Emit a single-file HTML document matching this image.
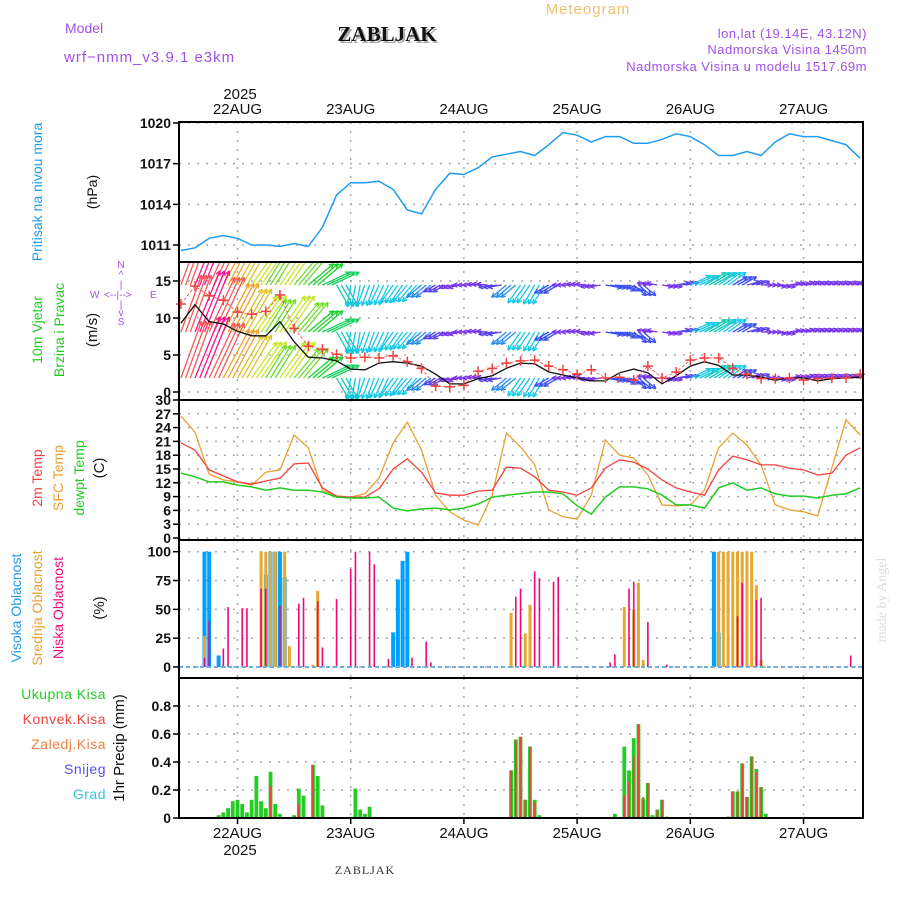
<!DOCTYPE html>
<html><head><meta charset="utf-8">
<style>
html,body{margin:0;padding:0;background:#fff;}
svg{display:block;font-family:"Liberation Sans",sans-serif;}
</style></head>
<body>
<svg id="chart" width="900" height="900" viewBox="0 0 900 900" xmlns="http://www.w3.org/2000/svg">
<defs>
<clipPath id="clipW"><rect x="179" y="262" width="684" height="138"/></clipPath>
</defs>
<text x="588" y="14" font-size="15" fill="#f0c070" text-anchor="middle" letter-spacing="1">Meteogram</text>
<text x="65" y="33" font-size="14" fill="#a050e8">Model</text>
<text x="64" y="62" font-size="15" fill="#a050e8" letter-spacing="1">wrf−nmm_v3.9.1  e3km</text>
<text x="389" y="43" font-size="21" font-weight="bold" font-family="Liberation Serif,serif" fill="#aaa" text-anchor="middle">ZABLJAK</text>
<text x="387" y="41" font-size="21" font-weight="bold" font-family="Liberation Serif,serif" fill="#111" text-anchor="middle">ZABLJAK</text>
<text x="867" y="38" font-size="13" fill="#a050e8" text-anchor="end" letter-spacing="0.5">lon,lat (19.14E, 43.12N)</text>
<text x="867" y="54" font-size="13" fill="#a050e8" text-anchor="end" letter-spacing="0.5">Nadmorska Visina 1450m</text>
<text x="867" y="71" font-size="13" fill="#a050e8" text-anchor="end" letter-spacing="0.5">Nadmorska Visina u modelu 1517.69m</text>
<text x="240" y="99" font-size="15" fill="#111" text-anchor="middle">2025</text>

<g>
<text transform="translate(42,192) rotate(-90)" font-size="14" fill="#1e9cf0" text-anchor="middle">Pritisak na nivou mora</text>
<text transform="translate(97,192) rotate(-90)" font-size="14" fill="#111" text-anchor="middle">(hPa)</text>
<text transform="translate(42,330) rotate(-90)" font-size="14" fill="#22cc22" text-anchor="middle">10m Vjetar</text>
<text transform="translate(64,330) rotate(-90)" font-size="14" fill="#22cc22" text-anchor="middle">Brzina i Pravac</text>
<text transform="translate(97,330) rotate(-90)" font-size="15" fill="#111" text-anchor="middle">(m/s)</text>
<g font-size="10" fill="#a050e8">
<text x="121" y="268" text-anchor="middle">N</text><text x="121" y="278" text-anchor="middle">^</text>
<text x="121" y="288" text-anchor="middle">|</text>
<text x="90" y="298">W</text><text x="104" y="298">&lt;--|--&gt;</text><text x="150" y="298">E</text>
<text x="121" y="308" text-anchor="middle">|</text><text x="121" y="316" text-anchor="middle">v</text>
<text x="121" y="325" text-anchor="middle">S</text>
</g>
<text transform="translate(42,478) rotate(-90)" font-size="14" fill="#f04040" text-anchor="middle">2m Temp</text>
<text transform="translate(63,478) rotate(-90)" font-size="14" fill="#e8a030" text-anchor="middle">SFC Temp</text>
<text transform="translate(84,478) rotate(-90)" font-size="14" fill="#22cc22" text-anchor="middle">dewpt Temp</text>
<text transform="translate(104,468) rotate(-90)" font-size="15" fill="#111" text-anchor="middle">(C)</text>
<text transform="translate(21,608) rotate(-90)" font-size="14" fill="#1e9cf0" text-anchor="middle">Visoka Oblacnost</text>
<text transform="translate(42,608) rotate(-90)" font-size="14" fill="#e8a030" text-anchor="middle">Srednja Oblacnost</text>
<text transform="translate(63,608) rotate(-90)" font-size="14" fill="#f0087a" text-anchor="middle">Niska Oblacnost</text>
<text transform="translate(104,608) rotate(-90)" font-size="15" fill="#111" text-anchor="middle">(%)</text>
<g font-size="14" text-anchor="end" letter-spacing="0.5">
<text x="106" y="699" fill="#22cc22">Ukupna  Kisa</text>
<text x="106" y="724" fill="#f04040">Konvek.Kisa</text>
<text x="106" y="749" fill="#f08040">Zaledj.Kisa</text>
<text x="106" y="774" fill="#5050f0">Snijeg</text>
<text x="106" y="799" fill="#30c8d8">Grad</text>
</g>
<text transform="translate(124,748) rotate(-90)" font-size="15" fill="#111" text-anchor="middle">1hr Precip (mm)</text>
<text transform="translate(886,600) rotate(-90)" font-size="14" font-family="Liberation Serif,serif" fill="#d8e0d8" text-anchor="middle">made by Angel</text>
<text x="240" y="855" font-size="15" fill="#111" text-anchor="middle">2025</text>
<text x="365" y="874" font-size="12" font-family="Liberation Serif,serif" fill="#333" text-anchor="middle" letter-spacing="1">ZABLJAK</text>
</g>
<g id="layer"></g>
</svg>
<script>
const dayLabels = ["22AUG","23AUG","24AUG","25AUG","26AUG","27AUG"];
const dayHours = [0,24,48,72,96,120];
const hours3 = [-12,-9,-6,-3,0,3,6,9,12,15,18,21,24,27,30,33,36,39,42,45,48,51,54,57,60,63,66,69,72,75,78,81,84,87,90,93,96,99,102,105,108,111,114,117,120,123,126,129,132];
const pressure = [1010.6,1010.8,1011.5,1011.7,1011.5,1011.0,1011.0,1010.9,1011.1,1010.9,1012.3,1014.7,1015.6,1015.6,1015.7,1015.1,1013.6,1013.3,1015.1,1016.3,1016.2,1016.7,1017.5,1017.7,1017.9,1017.6,1018.4,1019.3,1019.1,1018.6,1019.0,1019.0,1018.5,1018.5,1018.8,1019.2,1019.0,1018.4,1017.6,1017.6,1017.9,1017.6,1018.6,1019.2,1019.0,1019.0,1018.7,1018.4,1017.4];
const pressureTicks = [1011,1014,1017,1020];
const windSpeed = [9.3,11.8,9.5,9.2,8.2,7.6,7.6,9.5,6.8,4.7,4.6,4.2,3.1,3.0,3.9,4.1,3.9,3.5,2.4,1.1,1.1,1.8,2.2,3.2,3.9,3.8,2.7,2.3,1.9,1.5,1.5,2.6,3.1,2.6,1.1,2.2,3.5,4.1,3.6,2.3,2.3,2.0,1.6,1.9,1.9,1.5,1.8,1.9,2.0];
const windGust = [11.9,14.3,13.0,12.4,10.8,10.5,10.9,13.1,8.6,6.2,5.8,5.1,4.6,4.7,4.6,4.9,4.1,3.2,0.8,0.7,0.9,2.8,3.2,3.9,4.2,4.3,3.5,3.0,2.4,3.0,1.9,2.0,1.6,3.5,1.9,2.7,4.3,4.6,4.6,3.2,2.4,1.8,1.8,1.9,1.6,1.8,1.9,1.9,2.4];
const windDir = [70,68,65,62,60,55,58,55,50,40,25,-60,-100,-110,-115,-125,-130,-140,-150,-165,180,175,-170,-140,-125,-120,-150,180,175,-170,-10,-20,-40,170,-10,10,25,30,35,30,15,0,-10,10,15,15,15,15,20];
const windArrowSpeed = [11,12,11,10,9,8,7,8,7,6,5.5,4.5,4,4,4,4,4,3.5,2.5,2,2,2,2.5,3.5,4,4,3,2,2,2,3,3,3,2,2,2.5,4,4.5,4,3,2.5,2,2,2,2,2,2,2,2];
const windTicks = [0,5,10,15];
const temp2m = [20.7,19.1,14.8,13.5,12.2,11.7,12.4,13.0,16.1,16.3,10.9,9.1,8.9,8.9,10.7,15.0,17.2,14.3,9.8,9.3,9.3,10.2,10.4,15.4,15.2,13.3,10.4,10.0,9.3,10.9,15.2,17.0,16.5,15.0,12.6,10.9,10.0,9.3,14.8,17.8,17.0,15.9,15.9,15.2,14.8,13.7,14.1,18.0,19.6];
const tempSfc = [26.5,23.0,13.9,12.6,12.2,11.5,14.3,14.8,22.4,19.6,10.4,9.1,8.9,9.6,13.0,20.7,25.2,19.1,9.3,5.7,3.9,2.8,9.3,22.8,19.8,15.9,6.1,4.6,4.1,9.3,21.3,18.0,17.4,13.7,7.2,7.0,7.2,10.4,19.6,22.8,20.2,15.9,7.2,6.1,5.7,4.8,15.2,25.7,22.4];
const tempDew = [14.1,13.3,12.2,12.2,11.5,11.1,10.4,10.9,10.4,10.4,10.0,8.9,8.7,8.7,8.9,6.5,5.9,6.3,6.5,6.1,6.5,7.4,8.9,9.3,9.6,10.0,10.0,9.6,7.0,5.2,8.9,11.1,11.1,10.7,9.3,7.2,7.2,6.5,10.9,12.0,10.4,10.9,9.6,9.1,9.1,8.7,9.3,9.6,10.9];
const tempTicks = [0,3,6,9,12,15,18,21,24,27,30];
const highHours = [-7,-6,-4,6,7,8,9,10,33,34,35,36,101,102];
const highVals = [100,100,10,80,100,100,100,78,30,76,92,100,100,30];
const midHours = [-7,5,6,7,8,10,11,16,17,58,61,62,82,84,85,86,102,103,104,105,106,107,108,109,110,111];
const midVals = [27,100,100,100,100,100,18,2,66,47,29,54,52,50,73,6,100,100,100,100,100,100,100,100,71,6];
const lowHours = [-7,-6,-3,-2,1,2,5,6,9,13,14,17,18,21,24,25,28,29,32,37,40,41,59,60,63,64,67,68,79,80,83,84,87,91,106,107,110,111,130];
const lowVals = [8,40,16,52,51,51,68,68,53,55,60,57,17,59,85,100,100,89,7,8,22,4,61,68,83,77,74,78,4,11,68,74,39,2,44,73,58,60,10];
const cloudTicks = [0,25,50,75,100];
const precipHours = [-4,-3,-2,-1,0,1,2,3,4,5,6,7,8,9,12,13,14,16,17,18,25,26,27,28,58,59,60,61,62,63,64,80,82,83,84,85,86,87,88,89,90,91,104,105,106,107,108,109,110,111,112];
const precipTotal = [.02,.04,.07,.12,.13,.1,.04,.13,.3,.12,.07,.33,.1,.03,.02,.21,.16,.38,.3,.09,.21,.06,.03,.08,.34,.56,.58,.13,.51,.13,.02,.03,.51,.34,.57,.67,.14,.25,.02,.06,.13,.01,.01,.19,.19,.39,.15,.44,.35,.22,.03];
const precipConv = [0,0,0,0,0,0,0,0,0,0,0,.23,.01,0,.01,.1,0,.38,0,0,0,0,0,0,.34,.56,.58,.13,.51,.11,0,0,.16,.26,.44,.67,.15,.25,0,.06,.13,0,.01,.19,.19,.39,.15,.44,.33,.22,0];
const precipTicks = [0,0.2,0.4,0.6,0.8];

const L = 179, R = 863;
const X = h => 237.5 + h * 4.717;
const yP = p => 123 + (1020 - p) * 13.56;
const yW = v => 392 - 7.4 * v;
const yT = t => 538 - 4.6 * t;
const yC = c => 667 - 1.153 * c;
const yR = r => 818 - 140 * r;
const NS = "http://www.w3.org/2000/svg";
const layer = document.getElementById("layer");
function mk(tag, attrs, parent) {
  const e = document.createElementNS(NS, tag);
  for (const k in attrs) e.setAttribute(k, attrs[k]);
  (parent || layer).appendChild(e);
  return e;
}
function grid(top, bottom, ticks, yf, fmt, name) {
  ticks.forEach(t => {
    const y = yf(t);
    const g = mk("line", {x1: L, x2: R, y1: y, y2: y, stroke: "#aaa", "stroke-width": 1.5, "stroke-dasharray": "2,7"});
    
    
    const tk = mk("line", {x1: L - 6, x2: L, y1: y, y2: y, stroke: "#000", "stroke-width": 1.5});
    
    
    const lb = mk("text", {x: L - 8, y: y + 5, "font-size": 14, "font-weight": "bold", "text-anchor": "end", fill: "#111"});
    lb.textContent = fmt(t);
    
    
  });
  dayHours.forEach(h => {
    const v = mk("line", {x1: X(h), x2: X(h), y1: top, y2: bottom, stroke: "#aaa", "stroke-width": 1.5, "stroke-dasharray": "2,7"});
    
    
  });
}
function frame(top, bottom, name) {
  const r = mk("rect", {x: L, y: top, width: R - L, height: bottom - top, fill: "none", stroke: "#000", "stroke-width": 2});
  
  
}
function poly(hs, vals, yf, color, name, w) {
  const pts = hs.map((h, i) => X(h).toFixed(1) + "," + yf(vals[i]).toFixed(1)).join(" ");
  const p = mk("polyline", {points: pts, fill: "none", stroke: color, "stroke-width": w || 1.3});
  
  
}

dayLabels.forEach((d, i) => {
  const t1 = mk("text", {x: X(dayHours[i]), y: 114, "font-size": 15, "text-anchor": "middle", fill: "#111"});
  t1.textContent = d;
  
  
  const t2 = mk("text", {x: X(dayHours[i]), y: 838, "font-size": 15, "text-anchor": "middle", fill: "#111"});
  t2.textContent = d;
  
  
});

// Panel 1: pressure
grid(122, 262, pressureTicks, yP, t => String(t), 'pressure');
poly(hours3, pressure, yP, "#1e9cf0", 'pressure-line', 1.5);
frame(122, 262, 'pressure-panel');

// Panel 2: wind
grid(262, 400, windTicks, yW, t => String(t), 'wind');
const wg = mk("g", {"clip-path": "url(#clipW)"});


const stops = [[1.5,[150,40,230]],[3,[60,80,240]],[4,[20,200,230]],[6,[20,210,40]],[8,[200,230,40]],[10,[240,160,40]],[12,[245,20,140]]];
function windColor(v) {
  if (v <= stops[0][0]) return "rgb(" + stops[0][1].join(",") + ")";
  for (let i = 1; i < stops.length; i++) {
    if (v <= stops[i][0]) {
      const f = (v - stops[i-1][0]) / (stops[i][0] - stops[i-1][0]);
      const c = stops[i-1][1].map((a, k) => Math.round(a + (stops[i][1][k] - a) * f));
      return "rgb(" + c.join(",") + ")";
    }
  }
  return "rgb(" + stops[stops.length-1][1].join(",") + ")";
}
[285, 332, 378].forEach(base => {
  hours3.forEach((h, i) => {
    const len = windArrowSpeed[i] * 5.5;
    const a = windDir[i] * Math.PI / 180;
    const col = windColor(windArrowSpeed[i]);
    [0, 1, 2].forEach(off => {
      const x0 = X(h + off), y0 = base;
      if (x0 > R + 2) return;
      const x1 = x0 + len * Math.cos(a), y1 = y0 - len * Math.sin(a);
      const ln = mk("line", {x1: x0, y1: y0, x2: x1, y2: y1, stroke: col, "stroke-width": 1.3}, wg);
      
      
      const hl = 5;
      [a + Math.PI - 0.45, a + Math.PI + 0.45].forEach(b => {
        const hd = mk("line", {x1: x1, y1: y1, x2: x1 + hl * Math.cos(b), y2: y1 - hl * Math.sin(b), stroke: col, "stroke-width": 1.3}, wg);
        
        
      });
    });
  });
});
poly(hours3, windSpeed, yW, "#111", 'wind-speed-line', 1.3);
const gp = mk("polyline", {points: hours3.map((h, i) => X(h).toFixed(1) + "," + yW(windGust[i]).toFixed(1)).join(" "), fill: "none", stroke: "#f04040", "stroke-width": 0.8, "stroke-dasharray": "3,2"});


hours3.forEach((h, i) => {
  const x = X(h), y = yW(windGust[i]);
  const m = mk("path", {d: `M${x-5},${y}H${x+5}M${x},${y-5}V${y+5}`, stroke: "#f04040", "stroke-width": 1.5});
  
  
});
frame(262, 400, 'wind-panel');

// Panel 3: temperature
grid(400, 540, tempTicks, yT, t => String(t), 'temp');
poly(hours3, tempSfc, yT, "#e8a030", 'sfc-temp-line');
poly(hours3, temp2m, yT, "#f04040", 'temp-2m-line');
poly(hours3, tempDew, yT, "#22cc22", 'dewpoint-line', 1.5);
frame(400, 540, 'temp-panel');

// Panel 4: clouds
grid(540, 678, cloudTicks, yC, t => String(t), 'cloud');
function bars(hs, vals, yf, color, w, name) {
  hs.forEach((h, i) => {
    const y = yf(vals[i]);
    const b = mk("rect", {x: X(h) - w / 2, y: y, width: w, height: Math.max(0, yf(0) - y), fill: color});
    
    
  });
}
bars(highHours, highVals, yC, "#00a0ff", 4, 'high-cloud-bar');
bars(midHours, midVals, yC, "#e8a830", 3, 'mid-cloud-bar');
bars(lowHours, lowVals, yC, "#f0087a", 1.6, 'low-cloud-bar');
const cb = mk("line", {x1: L, x2: R, y1: yC(0), y2: yC(0), stroke: "#6ab0e0", "stroke-width": 2, "stroke-dasharray": "4,3"});


frame(540, 678, 'cloud-panel');

// Panel 5: precipitation
grid(678, 818, precipTicks, yR, t => t === 0 ? "0" : t.toFixed(1), 'precip');
bars(precipHours, precipTotal, yR, "#22cc22", 3.8, 'precip-total-bar');
bars(precipHours, precipConv, yR, "#f04040", 1.8, 'precip-conv-bar');
const pb = mk("line", {x1: L, x2: R, y1: 818, y2: 818, stroke: "#000", "stroke-width": 2, "stroke-dasharray": "5,2"});


frame(678, 818, 'precip-panel');
dayHours.forEach(h => {
  const t = mk("line", {x1: X(h), x2: X(h), y1: 818, y2: 824, stroke: "#000", "stroke-width": 1.5});
  
  
});
</script>
</body></html>
